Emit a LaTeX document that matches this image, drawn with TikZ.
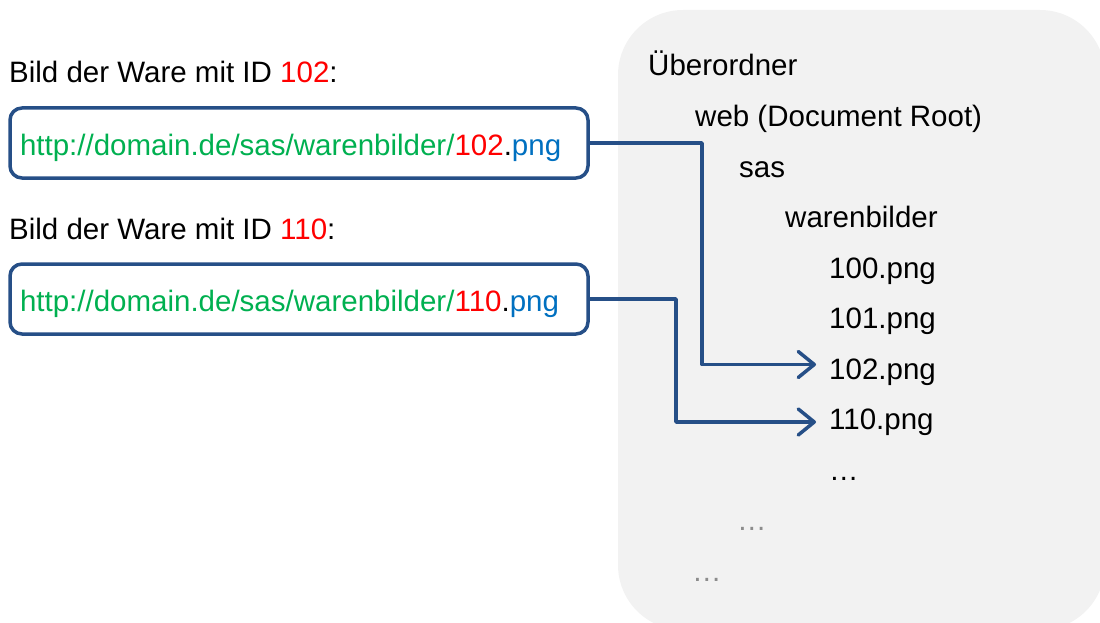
\documentclass[tikz,border=0pt]{standalone}
\usepackage{fontspec}
\setmainfont{Liberation Sans}
\usetikzlibrary{arrows.meta,positioning}

\definecolor{boxblue}{RGB}{38,79,135}
\definecolor{urlgreen}{RGB}{0,176,80}
\definecolor{idred}{RGB}{255,0,0}
\definecolor{pngblue}{RGB}{0,112,192}
\definecolor{panelgrey}{RGB}{242,242,242}
\definecolor{dotgrey}{RGB}{140,140,140}

\tikzset{
	label/.style={anchor=base west, inner sep=0pt},
	urlbox/.style={draw=boxblue, line width=3.5pt, rounded corners=12pt, anchor=north west,
		outer sep=0pt, inner xsep=10pt, text width=558pt, align=left,
		minimum height=70pt, text height=27pt, text depth=3pt, text=urlgreen},
	entry/.style={anchor=base west, inner xsep=0pt, inner ysep=0pt, text height=21pt, text depth=6pt},
	link/.style={draw=boxblue, line width=3.5pt, line join=round,
		-{Straight Barb[length=16pt,width=26pt,line cap=round,line join=round]}, shorten >=13pt}
}

\begin{document}
\begin{tikzpicture}[x=1pt, y=-1pt, font=\fontsize{29.5pt}{35pt}\selectfont]
	\useasboundingbox (0, 0) rectangle (1100, 623);
	\clip (0, 0) rectangle (1100, 623);
	\fill [panelgrey, rounded corners=65pt] (618, 10) rectangle (1105, 630);

	\node [label] (lab1) at (9, 83) {Bild der Ware mit ID \textcolor{idred}{102}:};
	\node [urlbox] (url1) at (10, 108) {http://domain.de/sas/warenbilder/\textcolor{idred}{102}\textcolor{black}{.}\textcolor{pngblue}{png}};
	\node [label] (lab2) at (9, 239) {Bild der Ware mit ID \textcolor{idred}{110}:};
	\node [urlbox] (url2) at (10, 264) {http://domain.de/sas/warenbilder/\textcolor{idred}{110}\textcolor{black}{.}\textcolor{pngblue}{png}};

	\node [entry] (root) at (648, 76) {Überordner};
	\node [entry] (web) at (695, 126.5) {web (Document Root)};
	\node [entry] (sas) at (739, 177) {sas};
	\node [entry] (bilder) at (785, 227.5) {warenbilder};
	\node [entry] (f100) at (829, 278) {100.png};
	\node [entry] (f101) at (829, 328.5) {101.png};
	\node [entry] (f102) at (829, 379) {102.png};
	\node [entry] (f110) at (829, 429.5) {110.png};
	\node [entry] (more3) at (829, 480) {…};
	\node [entry, text=dotgrey] (more2) at (737, 530.5) {…};
	\node [entry, text=dotgrey] (more1) at (692, 581) {…};

	\draw [link] (url1.east) -- ++(114, 0) |- ([yshift=7pt]f102.west);
	\draw [link] (url2.east) -- ++(88, 0) |- (f110.west);
\end{tikzpicture}
\end{document}
